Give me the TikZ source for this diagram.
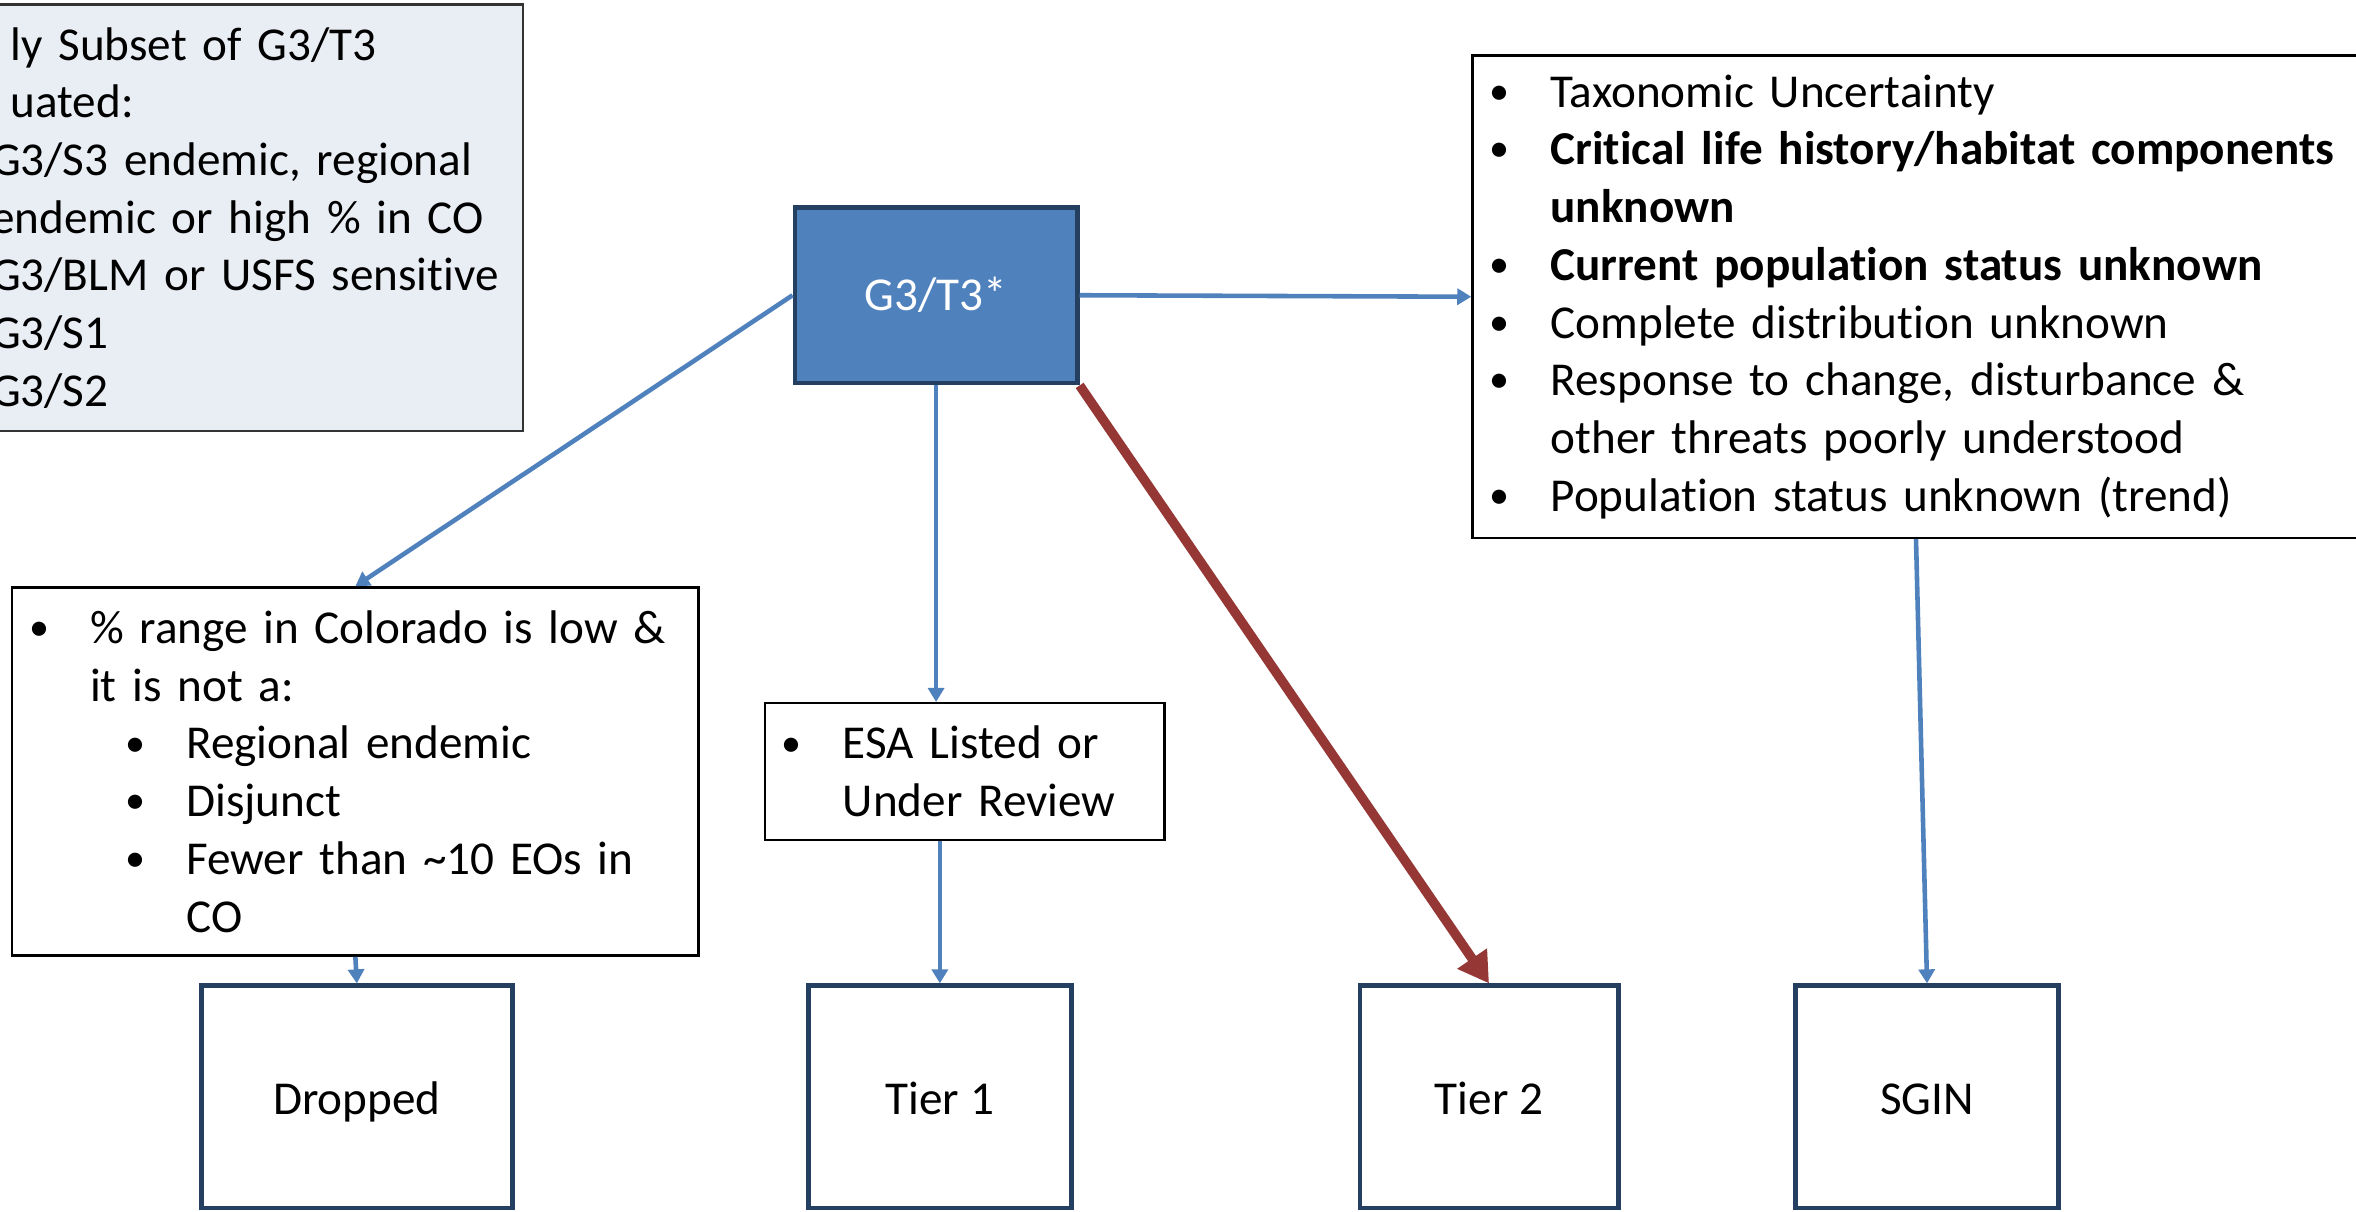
\documentclass[tikz,border=0pt]{standalone}
\usepackage{fontspec}
\setmainfont{Carlito}[Ligatures=NoCommon]
\usetikzlibrary{calc,arrows.meta}
\definecolor{sblue}{HTML}{4F81BD}
\definecolor{snavy}{HTML}{243F60}
\definecolor{sred}{HTML}{953735}
\definecolor{sgrey}{HTML}{E9EDF4}
\newcommand{\bitem}[1]{\mbox{\makebox[0.54cm][l]{\hspace*{-0.07cm}\raisebox{0.06em}{\scalebox{0.85}{•}}}#1}}
\newcommand{\bcont}[1]{\mbox{\hspace*{0.54cm}#1}}

\begin{document}
\begin{tikzpicture}[x=0.015cm, y=-0.015cm,
    font=\fontsize{13.4}{16.4}\selectfont,
    TXB/.style={rectangle, draw=black, line width=0.7pt, fill=white, inner xsep=0.24cm, inner ysep=0pt, align=left},
    OUT/.style={rectangle, draw=snavy, line width=1.3pt, fill=white, text height=0.36cm, text depth=0cm, minimum width=2.625cm, minimum height=2.22cm},
    HUB/.style={rectangle, draw=snavy, line width=1.3pt, fill=sblue, text=white, minimum width=2.82cm, minimum height=1.755cm},
    LNK/.style={draw=sblue, line width=1.3pt, -{Triangle[length=1.4mm,width=1.6mm]}},
    HOT/.style={draw=sred, line width=2.7pt, -{Triangle[length=3mm,width=3.4mm]}}
    ]
        \useasboundingbox (0,0) rectangle (1568,806);
        \clip (0,0) rectangle (1568,806);
        % boxes
        \node[TXB, draw=black!80, fill=sgrey, inner xsep=0.1cm, text width=5.21cm, minimum height=4.26cm] (subset) at (167.7,145) {\hspace*{0.195cm}ly Subset of G3/T3\\ \hspace*{0.195cm}uated:\\ G3/S3 endemic, regional\\ endemic or high \% in CO\\ G3/BLM or USFS sensitive\\ G3/S1\\ G3/S2};
        \node[HUB] (hub) at (623,196.5) {G3/T3*};
        \node[TXB, text width=8.82cm, minimum height=4.815cm] (risk) at (1290,197.5) {\bitem{Taxonomic Uncertainty}\\ \bitem{\textbf{Critical life history/habitat components}}\\ \bcont{\textbf{unknown}}\\ \bitem{\textbf{Current population status unknown}}\\ \bitem{Complete distribution unknown}\\ \bitem{Response to change, disturbance \&}\\ \bcont{other threats poorly understood}\\ \bitem{Population status unknown (trend)}};
        \node[TXB, text width=6.375cm, minimum height=3.675cm] (pct) at (236.5,513.5) {\bitem{\% range in Colorado is low \&}\\ \bcont{it is not a:}\\ \hspace*{0.96cm}\bitem{Regional endemic}\\ \hspace*{0.96cm}\bitem{Disjunct}\\ \hspace*{0.96cm}\bitem{Fewer than \textasciitilde10 EOs in}\\ \hspace*{1.5cm}\mbox{CO}};
        \node[TXB, text width=3.51cm, minimum height=1.365cm] (esa) at (642,513.5) {\bitem{ESA Listed or}\\ \bcont{Under Review}};
        \node[OUT, minimum width=3.105cm] (dropped) at (237.5,730) {Dropped};
        \node[OUT] (tier1) at (625.5,730) {Tier 1};
        \node[OUT, minimum width=2.58cm] (tier2) at (991,730) {Tier 2};
        \node[OUT] (sgin) at (1282.5,730) {SGIN};
        % arrows
        \draw[LNK] (hub.east) -- (risk.west);
        \draw[LNK] (hub.west) -- (pct.north);
        \draw[LNK] (hub.south) -- (hub.south |- esa.north);
        \draw[LNK] (tier1.north |- esa.south) -- (tier1.north);
        \draw[LNK] (pct.south) -- (dropped.north);
        \draw[HOT] (hub.south east) -- (tier2.north);
        \draw[LNK] ($(risk.south west)+(296,0)$) -- (sgin.north);
    \end{tikzpicture}
\end{document}
